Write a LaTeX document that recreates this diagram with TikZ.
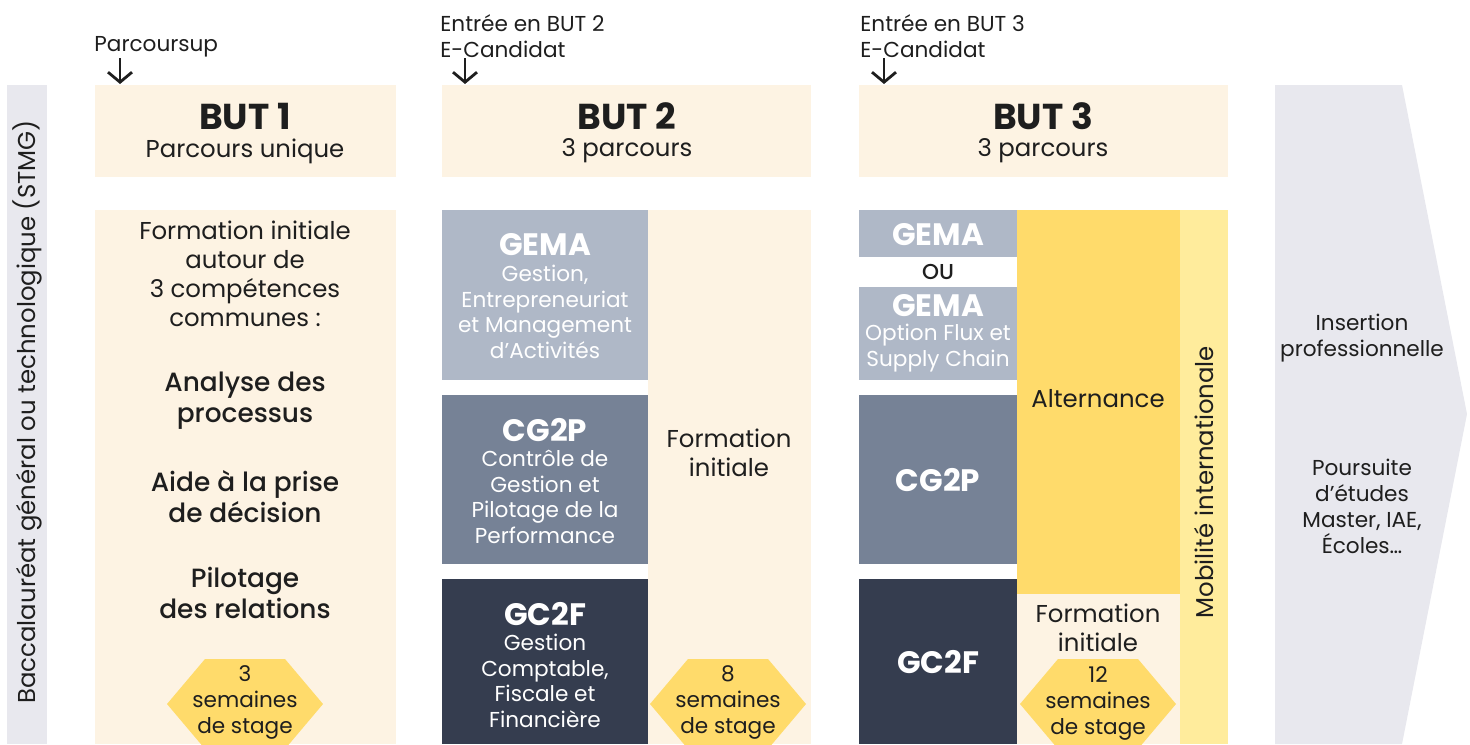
\documentclass[tikz,border=0pt]{standalone}
\usepackage{fontspec}
\setmainfont{Poppins}
\newfontfamily\pmedium{Poppins Medium}
\usetikzlibrary{arrows.meta}

\definecolor{ink}{HTML}{1E1E1E}
\definecolor{cream}{HTML}{FDF3E3}
\definecolor{bargrey}{HTML}{E8E8EE}
\definecolor{gemagrey}{HTML}{AFB8C7}
\definecolor{cgblue}{HTML}{768296}
\definecolor{gcnavy}{HTML}{353D4F}
\definecolor{altyellow}{HTML}{FFDB6B}
\definecolor{mobyellow}{HTML}{FFEC9C}

\begin{document}
\begin{tikzpicture}[x=0.5pt,y=-0.5pt,
          lbl/.style={align=center,text=ink,inner sep=0pt,font=\fontsize{12.2}{14.5}\selectfont},
          small/.style={align=center,text=ink,inner sep=0pt,font=\fontsize{10.8}{13}\selectfont},
          skill/.style={align=center,text=ink,inner sep=0pt,font=\pmedium\fontsize{13.2}{15.5}\selectfont},
          title/.style={align=center,text=ink,inner sep=0pt,font=\bfseries\fontsize{18}{20}\selectfont},
          code/.style={align=center,text=white,inner sep=0pt,font=\bfseries\fontsize{15.5}{16}\selectfont},
          sub/.style={align=center,text=white,inner sep=0pt,font=\fontsize{10.8}{12.8}\selectfont},
          entry/.style={-{Straight Barb[length=5pt,width=12pt]},line width=1.4pt,ink},
          hexa/.style={fill=altyellow},
        ]

        \useasboundingbox (0,0) rectangle (1470,744);
        \clip (0,0) rectangle (1470,744);

        % side bands
        \fill[bargrey] (7,85) rectangle (47,744);
        \fill[bargrey] (1275,85) -- (1402,85) -- (1467,414) -- (1402,744) -- (1275,744) -- cycle;

        % headers
        \fill[cream] (95,85) rectangle (396,177);
        \fill[cream] (442,85) rectangle (811,177);
        \fill[cream] (859,85) rectangle (1228,177);

        % BUT 1
        \fill[cream] (95,210) rectangle (396,744);

        % BUT 2
        \fill[gemagrey] (442,210) rectangle (648,380);
        \fill[cgblue] (442,395) rectangle (648,564);
        \fill[gcnavy] (442,579) rectangle (648,744);
        \fill[cream] (648,210) rectangle (811,744);

        % BUT 3
        \fill[gemagrey] (859,210) rectangle (1017,257);
        \fill[gemagrey] (859,287) rectangle (1017,380);
        \fill[cgblue] (859,395) rectangle (1017,564);
        \fill[gcnavy] (859,579) rectangle (1017,744);
        \fill[altyellow] (1017,210) rectangle (1180,594);
        \fill[cream] (1017,594) rectangle (1180,744);
        \fill[mobyellow] (1180,210) rectangle (1228,744);

        % stage hexagons
        \foreach \cx in {245,728,1098}
          \fill[hexa] (\cx,704) ++(-78,0) -- ++(38,-45) -- ++(80,0) -- ++(38,45)
            -- ++(-38,45) -- ++(-80,0) -- cycle;

        % entries
        \node[small,anchor=west] (psup) at (94,47) {Parcoursup};
        \node[small,anchor=north west,align=left] (ecand2) at (440,14) {Entrée en BUT 2\\E-Candidat};
        \node[small,anchor=north west,align=left] (ecand3) at (860,14) {Entrée en BUT 3\\E-Candidat};
        \coordinate (in1) at (120,58);  \coordinate (to1) at (120,84);
        \coordinate (in2) at (465,58);  \coordinate (to2) at (465,84);
        \coordinate (in3) at (884,58);  \coordinate (to3) at (884,84);
        \draw[entry] (in1) -- (to1);
        \draw[entry] (in2) -- (to2);
        \draw[entry] (in3) -- (to3);

        \node[lbl,rotate=90] (bac) at (27,412) {Baccalauréat général ou technologique (STMG)};

        \node[title] (but1) at (245,116) {BUT 1};
        \node[lbl] (par1) at (245,151) {Parcours unique};
        \node[title] (but2) at (627,116) {BUT 2};
        \node[lbl] (par2) at (627,151) {3 parcours};
        \node[title] (but3) at (1043,116) {BUT 3};
        \node[lbl] (par3) at (1043,151) {3 parcours};

        % BUT 1 body
        \node[lbl] (fi1) at (245,274) {Formation initiale\\autour de\\3 compétences\\communes :};
        \node[skill] (sk1) at (245,401) {Analyse des\\processus};
        \node[skill] (sk2) at (245,497) {Aide à la prise\\de décision};
        \node[skill] (sk3) at (245,593) {Pilotage\\des relations};
        \node[small] (st1) at (245,702) {3\\semaines\\de stage};

        % BUT 2 body
        \node[code] (gema2) at (545,245) {GEMA};
        \node[sub] (gemat2) at (545,312) {Gestion,\\Entrepreneuriat\\et Management\\d’Activités};
        \node[code] (cg2) at (545,430) {CG2P};
        \node[sub] (cgt2) at (545,497) {Contrôle de\\Gestion et\\Pilotage de la\\Performance};
        \node[code] (gc2) at (545,614) {GC2F};
        \node[sub] (gct2) at (545,681) {Gestion\\Comptable,\\Fiscale et\\Financière};
        \node[lbl] (fi2) at (729,453) {Formation\\initiale};
        \node[small] (st2) at (728,702) {8\\semaines\\de stage};

        % BUT 3 body
        \node[code] (gema3) at (938,235) {GEMA};
        \node[small,font=\pmedium\fontsize{10.8}{13}\selectfont] (ou) at (938,272) {OU};
        \node[code] (gemb3) at (938,306) {GEMA};
        \node[sub] (gembt3) at (938,348) {Option Flux et\\Supply Chain};
        \node[code] (cg3) at (938,480) {CG2P};
        \node[code] (gc3) at (938,662) {GC2F};
        \node[lbl] (alt3) at (1098,399) {Alternance};
        \node[lbl] (fi3) at (1098,628) {Formation\\initiale};
        \node[small] (st3) at (1098,703) {12\\semaines\\de stage};
        \node[lbl,rotate=90] (mob) at (1204,482) {Mobilité internationale};

        % outcomes
        \node[small] (ins) at (1362,338) {Insertion\\professionnelle};
        \node[small] (pours) at (1362,506) {Poursuite\\d’études\\Master, IAE,\\Écoles…};

      \end{tikzpicture}
\end{document}
